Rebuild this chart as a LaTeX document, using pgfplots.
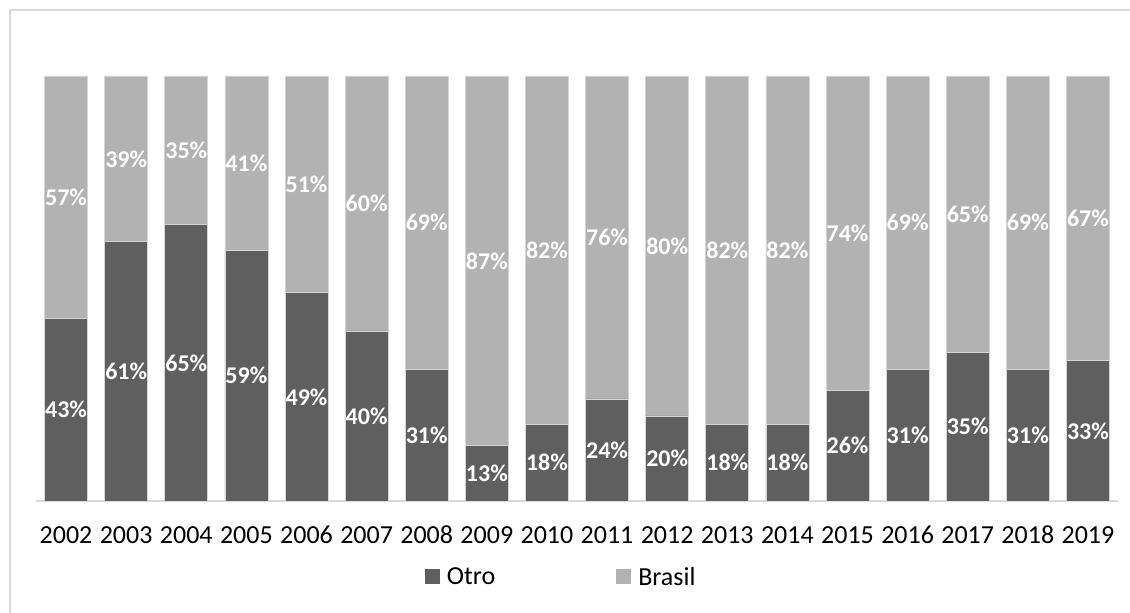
\documentclass[border=0pt]{standalone}
\usepackage{fontspec}
\setmainfont{Carlito}
\usepackage{pgfplots}
\pgfplotsset{compat=1.18}
\usepackage{pgfplotstable}

\definecolor{otro}{HTML}{5F5F5F}
\definecolor{brasil}{HTML}{B2B2B2}
\definecolor{framegray}{HTML}{D9D9D9}
\definecolor{edgegray}{HTML}{D4D4D4}

% Share of each origin per year (percent); oc and bc are the middles of the two segments
\pgfplotstableread{
x year otro brasil oc   bc
0  2002 43 57 21.5 71.5
1  2003 61 39 30.5 80.5
2  2004 65 35 32.5 82.5
3  2005 59 41 29.5 79.5
4  2006 49 51 24.5 74.5
5  2007 40 60 20.0 70.0
6  2008 31 69 15.5 65.5
7  2009 13 87  6.5 56.5
8  2010 18 82  9.0 59.0
9  2011 24 76 12.0 62.0
10 2012 20 80 10.0 60.0
11 2013 18 82  9.0 59.0
12 2014 18 82  9.0 59.0
13 2015 26 74 13.0 63.0
14 2016 31 69 15.5 65.5
15 2017 35 65 17.5 67.5
16 2018 31 69 15.5 65.5
17 2019 33 67 16.5 66.5
}\shares

\pgfplotsset{
  shareaxis/.style={
    at={(36pt,112pt)}, anchor=south west,
    width=1082pt, height=425pt, scale only axis,
    xmin=-0.5, xmax=17.5, ymin=0, ymax=100,
    axis y line=none,
  },
  segmentlabel/.style={
    draw=none, mark=none,
    point meta=explicit symbolic,
    nodes near coords={\pgfplotspointmeta\%},
    nodes near coords style={font=\fontsize{24}{28}\selectfont\bfseries,
      text=white, anchor=center},
  },
}

\begin{document}
\begin{tikzpicture}[x=1pt,y=1pt]
\useasboundingbox (0,0) rectangle (1130,613);
\draw[framegray, line width=1.5pt] (10,0) -- (10,603) -- (1130,603);
\begin{axis}[
  shareaxis,
  ybar stacked, bar width=0.715,
  axis x line*=bottom,
  x axis line style={framegray, line width=1.5pt, -},
  xtick={0,...,17},
  xticklabels={2002,2003,2004,2005,2006,2007,2008,2009,2010,2011,2012,2013,2014,2015,2016,2017,2018,2019},
  major tick length=0pt,
  xticklabel style={font=\fontsize{26}{30}\selectfont, anchor=base, yshift=-43pt, inner sep=0pt},
  legend columns=2,
  legend style={at={(0.3595,-0.1788)}, anchor=west, draw=none, fill=none,
    inner sep=0pt, outer sep=0pt,
    font=\fontsize{26}{30}\selectfont,
    nodes={inner sep=0pt},
    /tikz/every odd column/.append style={column sep=7pt},
    /tikz/every even column/.append style={column sep=121pt}},
  legend image code/.code={\fill[#1, draw=none] (0pt,-7.5pt) rectangle (15pt,7.5pt);},
]
\addplot+[fill=otro, draw=edgegray, line width=0.75pt] table[x=x, y=otro] {\shares};
\addlegendentry{Otro}
\addplot+[fill=brasil, draw=edgegray, line width=0.75pt] table[x=x, y=brasil] {\shares};
\addlegendentry{Brasil}
\end{axis}
% value labels, centred in each segment
\begin{axis}[shareaxis, axis x line=none]
\addplot[segmentlabel] table[x=x, y=oc, meta=otro] {\shares};
\addplot[segmentlabel] table[x=x, y=bc, meta=brasil] {\shares};
\end{axis}
\end{tikzpicture}
\end{document}
